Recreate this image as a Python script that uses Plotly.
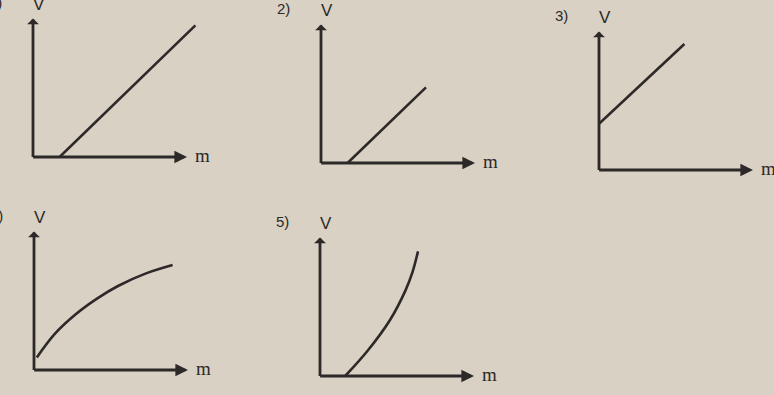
import plotly.graph_objects as go

# curve data for the five V(m) sketches (arbitrary units)
m1 = [1.9, 11.6]
v1 = [0.0, 9.4]
m2 = [1.9, 7.5]
v2 = [0.0, 5.4]
m3 = [0.0, 6.1]
v3 = [3.3, 9.0]
m4 = [0.2, 1.5, 3.0, 4.5, 6.0, 8.0, 9.9]
v4 = [0.9, 2.6, 4.0, 5.1, 6.0, 6.9, 7.5]
m5 = [1.8, 3.4, 5.0, 6.1, 6.6, 7.0]
v5 = [0.0, 1.8, 4.0, 6.1, 7.4, 8.9]
labels = ["1)", "2)", "3)", "4)", "5)"]

INK = "#2d2928"
PAPER = "#d8d1c4"
W, H = 774, 395
SCALE = 14  # px per unit
# origin pixel of each panel (left, bottom)
origins = [(33, 157), (321, 163), (599, 170), (34, 370), (320, 376)]
curves = [(m1, v1, "linear"), (m2, v2, "linear"), (m3, v3, "linear"),
          (m4, v4, "spline"), (m5, v5, "spline")]
XLEN, YLEN = 11.0, 9.9
XSPAN, YSPAN = 13.0, 11.0

fig = go.Figure()
layout = dict(width=W, height=H, margin=dict(l=0, r=0, t=0, b=0),
              paper_bgcolor=PAPER, plot_bgcolor="rgba(0,0,0,0)",
              showlegend=False)
annotations = []

for i, ((ox, oy), (mx, vy, shape), lab) in enumerate(zip(origins, curves, labels)):
    n = "" if i == 0 else str(i + 1)
    xa, ya = "x" + n, "y" + n
    x0 = ox / W
    x1 = min((ox + XSPAN * SCALE) / W, 1)
    y0 = (H - oy) / H
    y1 = min((H - oy + YSPAN * SCALE) / H, 1)
    layout["xaxis" + n] = dict(domain=[x0, x1], range=[0, (x1 - x0) * W / SCALE],
                               visible=False, fixedrange=True)
    layout["yaxis" + n] = dict(domain=[y0, y1], range=[0, (y1 - y0) * H / SCALE],
                               visible=False, fixedrange=True)

    fig.add_trace(go.Scatter(x=mx, y=vy, mode="lines", xaxis=xa, yaxis=ya,
                             line=dict(color=INK, width=2.6, shape=shape, smoothing=1.0),
                             hoverinfo="skip", cliponaxis=False))

    # axes with arrowheads
    annotations.append(dict(x=XLEN, y=0, ax=-0.1, ay=0, xref=xa, yref=ya, axref=xa, ayref=ya,
                            showarrow=True, arrowhead=2, arrowsize=0.9, arrowwidth=2.8,
                            arrowcolor=INK, text=""))
    annotations.append(dict(x=0, y=YLEN, ax=0, ay=-0.1, xref=xa, yref=ya, axref=xa, ayref=ya,
                            showarrow=True, arrowhead=1, arrowsize=0.7, arrowwidth=2.8,
                            arrowcolor=INK, text=""))
    # axis names
    annotations.append(dict(x=0.4, y=YLEN, xref=xa, yref=ya, text="V", showarrow=False,
                            xanchor="center", yanchor="bottom", yshift=2,
                            font=dict(family="Liberation Sans", size=17, color=INK)))
    annotations.append(dict(x=XLEN, y=0, xref=xa, yref=ya, text="m", showarrow=False,
                            xanchor="left", yanchor="middle", xshift=6, yshift=2,
                            font=dict(family="Liberation Serif", size=19, color=INK)))
    # panel number
    annotations.append(dict(x=(ox - 38) / W, y=(H - oy + YLEN * SCALE + 16) / H,
                            xref="paper", yref="paper", text=lab, showarrow=False,
                            xanchor="center", yanchor="middle",
                            font=dict(family="Liberation Sans", size=15, color=INK)))

layout["annotations"] = annotations
fig.update_layout(**layout)
fig.write_html("out.html", config={"displayModeBar": False},
               post_script="document.body.style.margin='0';")
